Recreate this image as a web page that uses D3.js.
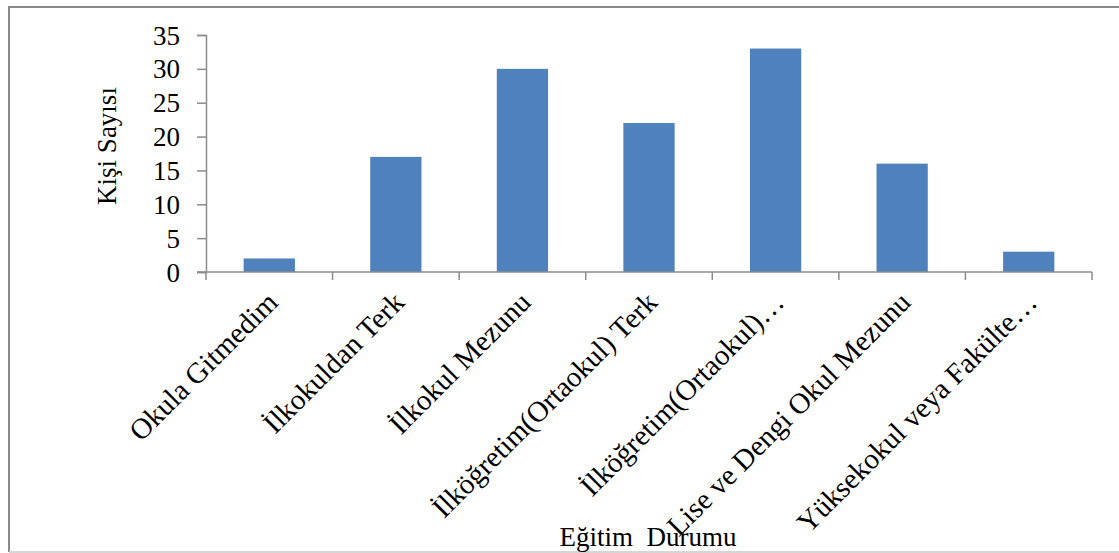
<!DOCTYPE html>
<html>
<head>
<meta charset="utf-8">
<script src="https://cdn.jsdelivr.net/npm/d3@7"></script>
<style>
  html, body { margin: 0; padding: 0; background: #fff; }
  svg { display: block; }
  text { font-family: "Liberation Serif", "Times New Roman", serif; fill: #000; }
</style>
</head>
<body>
<svg id="chart" width="1119" height="553"></svg>
<script>
// Education level categories and number of people in each
const categories = [
  "Okula Gitmedim",
  "İlkokuldan Terk",
  "İlkokul Mezunu",
  "İlköğretim(Ortaokul) Terk",
  "İlköğretim(Ortaokul)…",
  "Lise ve Dengi Okul Mezunu",
  "Yüksekokul veya Fakülte…"
];
const counts = [2, 17, 30, 22, 33, 16, 3];
const yTicks = [0, 5, 10, 15, 20, 25, 30, 35];
const yTitle = "Kişi Sayısı";
const xTitle = "Eğitim  Durumu";

const svg = d3.select("#chart");
const W = 1119, H = 553;
const plot = { left: 206, right: 1092, top: 35, bottom: 272 };
const fontSize = "27px";
const catFontSize = "29px";

// Outer frame (top, left and bottom edges)
svg.append("line").attr("x1", 9).attr("x2", W).attr("y1", 7).attr("y2", 7)
  .attr("stroke", "#8a8a8a").attr("stroke-width", 2);
svg.append("line").attr("x1", 9).attr("x2", 9).attr("y1", 6).attr("y2", 552)
  .attr("stroke", "#8a8a8a").attr("stroke-width", 2);
svg.append("line").attr("x1", 9).attr("x2", W).attr("y1", 552).attr("y2", 552)
  .attr("stroke", "#c8c8c8").attr("stroke-width", 1.5);

const x = d3.scaleBand()
  .domain(categories)
  .range([plot.left, plot.right])
  .paddingInner(0.595)
  .paddingOuter(0.2975);

const y = d3.scaleLinear()
  .domain([0, 35])
  .range([plot.bottom, plot.top]);

// Bars
svg.append("g").selectAll("rect")
  .data(categories)
  .join("rect")
  .attr("x", d => x(d))
  .attr("width", x.bandwidth())
  .attr("y", (d, i) => y(counts[i]))
  .attr("height", (d, i) => y(0) - y(counts[i]))
  .attr("fill", "#4f81bd");

// Y axis
const yAxis = svg.append("g")
  .attr("transform", `translate(${plot.left},0)`)
  .call(d3.axisLeft(y).tickValues(yTicks).tickSize(9).tickPadding(0).tickFormat(d3.format("d")));
yAxis.select(".domain").attr("stroke", "#8c8c8c").attr("stroke-width", 1.5);
yAxis.selectAll(".tick line").attr("stroke", "#8c8c8c").attr("stroke-width", 1.5);
yAxis.selectAll(".tick text")
  .attr("x", -26).attr("dy", null)
  .attr("text-anchor", "end")
  .attr("dominant-baseline", "central")
  .style("font-size", fontSize)
  .style("font-family", "'Liberation Serif', serif")
  .attr("fill", "#000");

// X axis with boundary ticks between categories
const xg = svg.append("g");
xg.append("line")
  .attr("x1", plot.left - 9).attr("x2", plot.right)
  .attr("y1", plot.bottom).attr("y2", plot.bottom)
  .attr("stroke", "#8c8c8c").attr("stroke-width", 1.5);
const step = x.step();
xg.selectAll("line.tk")
  .data(d3.range(categories.length + 1))
  .join("line")
  .attr("class", "tk")
  .attr("x1", i => plot.left + i * step)
  .attr("x2", i => plot.left + i * step)
  .attr("y1", plot.bottom).attr("y2", plot.bottom + 8)
  .attr("stroke", "#8c8c8c").attr("stroke-width", 1.5);

// Rotated category labels
xg.selectAll("text.cat")
  .data(categories)
  .join("text")
  .attr("class", "cat")
  .attr("text-anchor", "end")
  .attr("dominant-baseline", "central")
  .attr("transform", d => `translate(${x(d) + x.bandwidth() / 2 + 3},${plot.bottom + 25}) rotate(-45)`)
  .style("font-size", catFontSize)
  .text(d => d);

// Axis titles
svg.append("text")
  .attr("text-anchor", "middle")
  .attr("dominant-baseline", "central")
  .attr("transform", `translate(107,146) rotate(-90)`)
  .style("font-size", fontSize)
  .text(yTitle);

svg.append("text")
  .attr("text-anchor", "middle")
  .attr("transform", `translate(648,546)`)
  .style("font-size", fontSize)
  .style("white-space", "pre")
  .text(xTitle);
</script>
</body>
</html>
